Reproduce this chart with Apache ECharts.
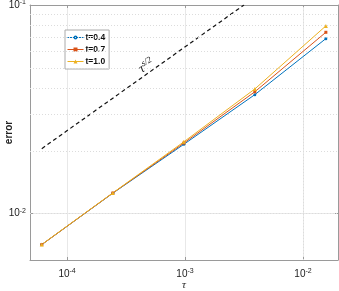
<!DOCTYPE html>
<html><head><meta charset="utf-8">
<script src="https://cdn.jsdelivr.net/npm/echarts@6/dist/echarts.min.js"></script>
<style>html,body{margin:0;padding:0;background:#fff}#c{width:339px;height:291px}</style>
</head><body><div id="c"></div>
<script>
// data
const tau = [6.1035e-5, 2.4414e-4, 9.7656e-4, 3.9063e-3, 1.5625e-2];
const errT04 = [0.00711, 0.01254, 0.0215, 0.0372, 0.0690];
const errT07 = [0.00711, 0.01256, 0.0218, 0.0384, 0.0740];
const errT10 = [0.00712, 0.01258, 0.0221, 0.0396, 0.0794];
const seriesNames = ['t=0.4', 't=0.7', 't=1.0'];
const refTau = [6.1035e-5, 3.16e-3];
const refErr = [0.0205, 0.1];
const xMin = 4.85e-5, xMax = 0.0198, yMin = 6.0e-3, yMax = 0.1;
const xMinorVals = [5e-5,6e-5,7e-5,8e-5,9e-5,2e-4,3e-4,4e-4,5e-4,6e-4,7e-4,8e-4,9e-4,2e-3,3e-3,4e-3,5e-3,6e-3,7e-3,8e-3,9e-3];
const yMinorVals = [7e-3,8e-3,9e-3,2e-2,3e-2,4e-2,5e-2,6e-2,7e-2,8e-2,9e-2];

const chart = echarts.init(document.getElementById('c'), null, {renderer:'canvas'});
function pow10Label(v){
  const l = Math.log10(v), e = Math.round(l);
  if (Math.abs(l - e) > 1e-6) return '';
  return '{b|10}{s|' + e + '}';
}
const rich = {b:{fontSize:10,fontFamily:'Liberation Sans',color:'#222'}, s:{fontSize:7,fontFamily:'Liberation Sans',color:'#222',verticalAlign:'top',padding:[0,0,6,0]}};
const axisCol = '#9a9a9a';
function logAxis(pos, min, max, show){
  return {type:'log', logBase:10, min:min, max:max, position:pos,
    axisLine:{show:true, lineStyle:{color:axisCol, width:1}},
    axisTick:{show:true, inside:true, length:3, lineStyle:{color:axisCol}},
    axisLabel:{show:show, formatter:pow10Label, rich:rich, margin:8, showMinLabel:false, showMaxLabel:false},
    splitLine:{show:show, lineStyle:{color:'#e8e8e8', width:1}},
    minorTick:{show:false}, minorSplitLine:{show:false}};
}
const mk = (name, vals, color, symbol, size) => ({
  name:name, type:'line', xAxisIndex:0, yAxisIndex:0,
  data: tau.map((t,i)=>[t, vals[i]]),
  symbol:symbol, symbolSize:size, showSymbol:true,
  lineStyle:{color:color, width:1}, itemStyle:{color:color}, z:5
});
const xa0 = logAxis('bottom', xMin, xMax, true);
xa0.name = 'τ'; xa0.nameLocation='middle'; xa0.nameGap = 20; xa0.nameMoveOverlap = false;
xa0.nameTextStyle = {fontSize:11, fontStyle:'italic', fontFamily:'Liberation Serif', color:'#222'};
const ya0 = logAxis('left', yMin, yMax, true);
ya0.name = 'error'; ya0.nameLocation='middle'; ya0.nameGap = 16; ya0.nameMoveOverlap = false;
ya0.nameTextStyle = {fontSize:10, fontWeight:'bold', fontFamily:'Liberation Sans', color:'#222'};
ya0.axisLabel.margin = 4;
const option = {
  animation:false,
  backgroundColor:'#fff',
  grid:{left:30, right:1, top:5, bottom:31, containLabel:false, outerBoundsMode:'none'},
  xAxis:[xa0, logAxis('top', xMin, xMax, false)],
  yAxis:[ya0, logAxis('right', yMin, yMax, false)],
  legend:{
    data:seriesNames, orient:'vertical', left:65, top:30,
    backgroundColor:'#fff', borderColor:'#aaa', borderWidth:1,
    padding:[3,4,3,2], itemGap:3, itemWidth:16, itemHeight:5,
    lineStyle:{width:1},
    textStyle:{fontSize:8.5, fontWeight:'bold', fontFamily:'Liberation Sans', color:'#111', padding:[0,0,0,-3]}
  },
  series:[
    {name:'minor', type:'line', data:[], silent:true, z:1,
     markLine:{silent:true, symbol:'none', label:{show:false},
       lineStyle:{type:[1,2], color:'#dcdcdc', width:1},
       data: xMinorVals.map(v=>({xAxis:v})).concat(yMinorVals.map(v=>({yAxis:v})))}},
    {name:'ref', type:'line', data: refTau.map((t,i)=>[t, refErr[i]]), symbol:'none',
     lineStyle:{color:'#111', width:1.2, type:[4,3]}, z:4, clip:true},
    mk(seriesNames[0], errT04, '#0072BD', 'circle', 3),
    mk(seriesNames[1], errT07, '#D95319', 'rect', 3),
    mk(seriesNames[2], errT10, '#EDB120', 'triangle', 4)
  ]
};
chart.setOption(option);
const p = chart.convertToPixel({xAxisIndex:0, yAxisIndex:0}, [4.7e-4, 0.051]);
chart.setOption({graphic:[{type:'text', x:p[0], y:p[1], rotation:0.55, z:10,
  style:{text:'{t|τ}{s|s/2}', align:'center', verticalAlign:'middle',
    rich:{t:{fontSize:13, fontStyle:'italic', fontFamily:'Liberation Serif', fill:'#222'},
          s:{fontSize:9, fontStyle:'italic', fontFamily:'Liberation Serif', fill:'#222', verticalAlign:'top', padding:[0,0,7,0]}}}}]});
</script></body></html>
